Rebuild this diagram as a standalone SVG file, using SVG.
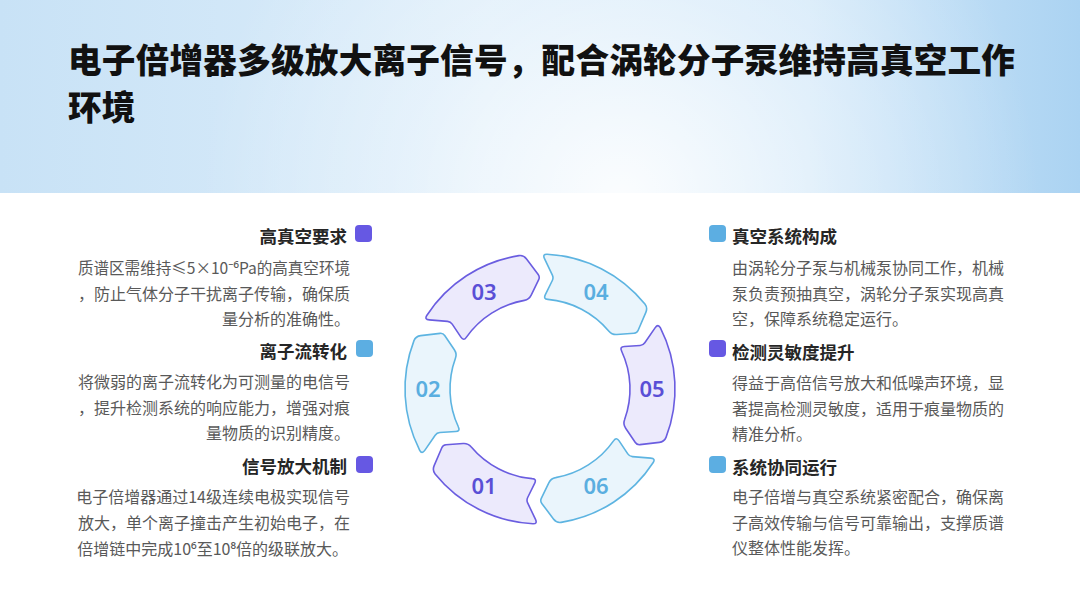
<svg xmlns="http://www.w3.org/2000/svg" width="1080" height="608" viewBox="0 0 1080 608">
<defs>
<linearGradient id="hdr" x1="0" y1="0" x2="1" y2="0">
<stop offset="0" stop-color="#c8e2f6"/>
<stop offset="0.45" stop-color="#dcedfa"/>
<stop offset="0.75" stop-color="#d2e8f9"/>
<stop offset="1" stop-color="#abd3f2"/>
</linearGradient>
<radialGradient id="glow" cx="620" cy="200" r="420" gradientUnits="userSpaceOnUse">
<stop offset="0" stop-color="#ffffff" stop-opacity="0.9"/>
<stop offset="0.5" stop-color="#ffffff" stop-opacity="0.35"/>
<stop offset="1" stop-color="#ffffff" stop-opacity="0"/>
</radialGradient>
<path id="seg" d="M 120.29 -61.29 A 135 135 0 0 1 126.03 48.38 Q 124.27 52.75 119.30 53.34 L 99.97 55.65 Q 96.99 56.0 95.31 53.52 L 85.66 39.30 Q 82.85 35.16 84.57 30.78 A 90 90 0 0 0 81.57 -38.03 Q 79.46 -42.25 84.45 -42.57 L 100.11 -43.57 Q 103.10 -43.76 104.80 -46.23 L 115.23 -61.33 Q 118.07 -65.45 120.29 -61.29 Z"/>
</defs>
<style>
.title{font-family:"Noto Sans CJK SC","Noto Sans",sans-serif;font-weight:900;font-size:33.6px;letter-spacing:0.25px;fill:#111111}
.hd{font-family:"Noto Sans CJK SC","Noto Sans",sans-serif;font-weight:700;font-size:17.5px;fill:#262626}
.bd{font-family:"Noto Sans CJK SC","Noto Sans",sans-serif;font-weight:400;font-size:16px;fill:#595959}
.num{font-family:"Noto Sans","Noto Sans CJK SC",sans-serif;font-weight:600;font-size:22px;text-anchor:middle}
.sp{fill:#eceafc;stroke:#6a5de0;stroke-width:1.6;stroke-linejoin:round}
.sb{fill:#eaf5fc;stroke:#5db4e1;stroke-width:1.6;stroke-linejoin:round}
.np{fill:#5a4fd6}
.nb{fill:#5aaee0}
.qp{fill:#6658e3}
.qb{fill:#5caee2}
.l{text-anchor:end}
</style>
<rect x="0" y="0" width="1080" height="608" fill="#ffffff"/>
<rect x="0" y="0" width="1080" height="193" fill="url(#hdr)"/>
<rect x="0" y="0" width="1080" height="193" fill="url(#glow)"/>
<g id="title">
<text class="title" x="68" y="73">电子倍增器多级放大离子信号，配合涡轮分子泵维持高真空工作</text>
<text class="title" x="68" y="120">环境</text>
</g>
<g id="ring">
<g id="seg05"><use href="#seg" class="sp" transform="translate(540 389) rotate(0)"/><text class="num np" x="652" y="397">05</text></g>
<g id="seg06"><use href="#seg" class="sb" transform="translate(540 389) rotate(60)"/><text class="num nb" x="596" y="494">06</text></g>
<g id="seg01"><use href="#seg" class="sp" transform="translate(540 389) rotate(120)"/><text class="num np" x="484" y="494">01</text></g>
<g id="seg02"><use href="#seg" class="sb" transform="translate(540 389) rotate(180)"/><text class="num nb" x="428" y="397">02</text></g>
<g id="seg03"><use href="#seg" class="sp" transform="translate(540 389) rotate(240)"/><text class="num np" x="484" y="300">03</text></g>
<g id="seg04"><use href="#seg" class="sb" transform="translate(540 389) rotate(300)"/><text class="num nb" x="596" y="300">04</text></g>
</g>
<g id="left1">
<rect class="qp" x="355" y="225" width="17" height="17" rx="4"/>
<text class="hd l" x="347" y="243">高真空要求</text>
<text class="bd" x="78" y="274" textLength="272" lengthAdjust="spacingAndGlyphs">质谱区需维持≤5×10⁻⁶Pa的高真空环境</text>
<text class="bd l" x="350" y="300">，防止气体分子干扰离子传输，确保质</text>
<text class="bd l" x="350" y="325">量分析的准确性。</text>
</g>
<g id="left2">
<rect class="qb" x="356" y="340" width="17" height="17" rx="4"/>
<text class="hd l" x="347" y="358">离子流转化</text>
<text class="bd l" x="350" y="388">将微弱的离子流转化为可测量的电信号</text>
<text class="bd l" x="350" y="414">，提升检测系统的响应能力，增强对痕</text>
<text class="bd l" x="350" y="439">量物质的识别精度。</text>
</g>
<g id="left3">
<rect class="qp" x="356" y="456" width="17" height="17" rx="4"/>
<text class="hd l" x="347" y="473">信号放大机制</text>
<text class="bd l" x="350" y="503">电子倍增器通过14级连续电极实现信号</text>
<text class="bd l" x="350" y="529">放大，单个离子撞击产生初始电子，在</text>
<text class="bd l" x="348" y="555">倍增链中完成10⁶至10⁸倍的级联放大。</text>
</g>
<g id="right1">
<rect class="qb" x="709" y="225" width="17" height="17" rx="4"/>
<text class="hd" x="732" y="243">真空系统构成</text>
<text class="bd" x="732" y="274">由涡轮分子泵与机械泵协同工作，机械</text>
<text class="bd" x="732" y="300">泵负责预抽真空，涡轮分子泵实现高真</text>
<text class="bd" x="732" y="325">空，保障系统稳定运行。</text>
</g>
<g id="right2">
<rect class="qp" x="709" y="340" width="17" height="17" rx="4"/>
<text class="hd" x="732" y="359">检测灵敏度提升</text>
<text class="bd" x="732" y="389">得益于高倍信号放大和低噪声环境，显</text>
<text class="bd" x="732" y="415">著提高检测灵敏度，适用于痕量物质的</text>
<text class="bd" x="732" y="440">精准分析。</text>
</g>
<g id="right3">
<rect class="qb" x="709" y="456" width="17" height="17" rx="4"/>
<text class="hd" x="732" y="474">系统协同运行</text>
<text class="bd" x="732" y="503">电子倍增与真空系统紧密配合，确保离</text>
<text class="bd" x="732" y="529">子高效传输与信号可靠输出，支撑质谱</text>
<text class="bd" x="732" y="554">仪整体性能发挥。</text>
</g>
</svg>
